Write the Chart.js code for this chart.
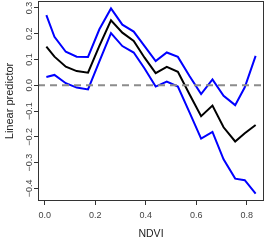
<!DOCTYPE html>
<html>
<head>
<meta charset="utf-8">
<style>
  html, body { margin: 0; padding: 0; background: #fff; }
  canvas { display: block; }
</style>
</head>
<body>
<canvas id="chart" width="266" height="240"></canvas>
<script src="https://cdn.jsdelivr.net/npm/chart.js"></script>
<script>
// values
const ndvi  = [0.006, 0.038, 0.083, 0.126, 0.171, 0.216, 0.262, 0.307, 0.352, 0.395,
               0.439, 0.483, 0.527, 0.573, 0.619, 0.664, 0.708, 0.754, 0.792, 0.835];
const fit   = [0.150, 0.111, 0.072, 0.055, 0.049, 0.153, 0.252, 0.204, 0.172, 0.107,
               0.047, 0.071, 0.052, -0.035, -0.120, -0.079, -0.163, -0.218, -0.186, -0.154];
const upper = [0.272, 0.188, 0.130, 0.111, 0.110, 0.217, 0.298, 0.235, 0.208, 0.152,
               0.094, 0.127, 0.110, 0.036, -0.034, 0.023, -0.041, -0.077, -0.008, 0.114];
const lower = [0.032, 0.040, 0.008, -0.009, -0.016, 0.093, 0.202, 0.152, 0.127, 0.065,
               -0.005, 0.014, -0.005, -0.105, -0.207, -0.181, -0.287, -0.362, -0.368, -0.420];
const refLine = 0;
const xTicks = [0, 0.2, 0.4, 0.6, 0.8];
const yTicks = [-0.4, -0.3, -0.2, -0.1, 0, 0.1, 0.2, 0.3];

// R style axis range: data range plus 4% each side
function rRange(vals) {
  const lo = Math.min(...vals), hi = Math.max(...vals);
  const pad = (hi - lo) * 0.04;
  return [lo - pad, hi + pad];
}
const [xMin, xMax] = rRange(ndvi);
const [yMin, yMax] = rRange(upper.concat(lower));

const pts = ys => ys.map((y, i) => ({ x: ndvi[i], y: y }));
const fmt = v => (v < 0 ? '\u2212' : '') + Math.abs(v).toFixed(1);
const FONT = '"Liberation Sans", Arial, sans-serif';

const boxAndLabels = {
  id: 'boxAndLabels',
  afterDraw(chart) {
    const { ctx, chartArea: a } = chart;
    const ys = chart.scales.y;
    ctx.save();
    ctx.strokeStyle = '#333';
    ctx.lineWidth = 1;
    ctx.strokeRect(Math.round(a.left) + 0.5, Math.round(a.top) + 0.5,
                   Math.round(a.right - a.left) - 1, Math.round(a.bottom - a.top) - 1);
    ctx.fillStyle = '#444';
    ctx.font = '9px ' + FONT;
    ctx.textAlign = 'center';
    ctx.textBaseline = 'middle';
    yTicks.forEach(v => {
      ctx.save();
      ctx.translate(29.5, ys.getPixelForValue(v));
      ctx.rotate(-Math.PI / 2);
      ctx.fillText(fmt(v), 0, 0);
      ctx.restore();
    });
    ctx.restore();
  }
};

new Chart(document.getElementById('chart'), {
  type: 'line',
  data: {
    datasets: [
      {
        data: [{ x: xMin, y: refLine }, { x: xMax, y: refLine }],
        borderColor: '#8c8c8c',
        borderWidth: 2,
        borderDash: [7, 5],
        pointRadius: 0
      },
      {
        data: pts(upper),
        borderColor: '#0000ff',
        borderWidth: 2,
        pointRadius: 0,
        tension: 0
      },
      {
        data: pts(lower),
        borderColor: '#0000ff',
        borderWidth: 2,
        pointRadius: 0,
        tension: 0
      },
      {
        data: pts(fit),
        borderColor: '#000000',
        borderWidth: 2,
        pointRadius: 0,
        tension: 0
      }
    ]
  },
  options: {
    responsive: false,
    animation: false,
    devicePixelRatio: 1,
    layout: { padding: { top: 1, right: 2, left: 0, bottom: 0 } },
    plugins: {
      legend: { display: false },
      tooltip: { enabled: false }
    },
    scales: {
      x: {
        type: 'linear',
        min: xMin,
        max: xMax,
        afterBuildTicks: s => { s.ticks = xTicks.map(v => ({ value: v })); },
        afterFit: s => { s.height = 39; },
        border: { display: false },
        grid: { drawOnChartArea: false, drawTicks: true, tickLength: 4, color: '#333' },
        ticks: {
          padding: 5,
          color: '#444',
          font: { family: FONT, size: 9 },
          callback: v => fmt(v)
        },
        title: {
          display: true,
          text: 'NDVI',
          color: '#222',
          padding: { top: 0, bottom: 0 },
          font: { family: FONT, size: 10.5 }
        }
      },
      y: {
        type: 'linear',
        min: yMin,
        max: yMax,
        afterBuildTicks: s => { s.ticks = yTicks.map(v => ({ value: v })); },
        afterFit: s => { s.width = 38; },
        border: { display: false },
        grid: { drawOnChartArea: false, drawTicks: true, tickLength: 4, color: '#333' },
        ticks: { display: false },
        title: {
          display: true,
          text: 'Linear predictor',
          color: '#222',
          padding: { top: 3, bottom: 0 },
          font: { family: FONT, size: 11 }
        }
      }
    }
  },
  plugins: [boxAndLabels]
});
</script>
</body>
</html>
